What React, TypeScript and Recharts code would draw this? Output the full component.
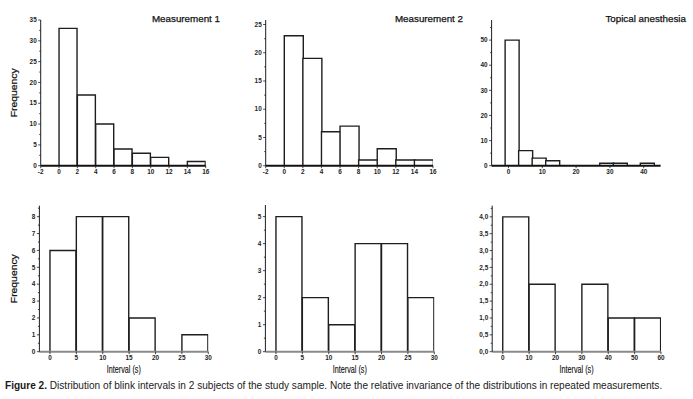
import React, { useLayoutEffect, useRef, useState } from "react";
import { BarChart, Bar, XAxis, YAxis } from "recharts";

// bin centres and counts
const binsTop = [1, 3, 5, 7, 9, 11, 13, 15];
const countsM1 = [33, 17, 10, 4, 3, 2, 0, 1];
const countsM2 = [23, 19, 6, 7, 1, 3, 1, 1];
const binsTA = [1, 5, 9, 13, 17, 21, 25, 29, 33, 37, 41];
const countsTA = [50, 6, 3, 2, 0, 0, 0, 1, 1, 0, 1];
const bins5 = [2.5, 7.5, 12.5, 17.5, 22.5, 27.5];
const countsB1 = [6, 8, 8, 2, 0, 1];
const countsB2 = [5, 2, 1, 4, 4, 2];
const bins10 = [5, 15, 25, 35, 45, 55];
const countsB3 = [4, 2, 0, 2, 1, 1];

// tick values
const xTicksTop = [-2, 0, 2, 4, 6, 8, 10, 12, 14, 16];
const xTicksTA = [0, 10, 20, 30, 40];
const xTicks5 = [0, 5, 10, 15, 20, 25, 30];
const xTicks10 = [0, 10, 20, 30, 40, 50, 60];
const yTicksM1 = [0, 2.5, 5, 7.5, 10, 12.5, 15, 17.5, 20, 22.5, 25, 27.5, 30, 32.5, 35];
const yTicksM2 = [0, 2.5, 5, 7.5, 10, 12.5, 15, 17.5, 20, 22.5, 25];
const yTicksTA = [0, 5, 10, 15, 20, 25, 30, 35, 40, 45, 50, 55];
const yTicksB1 = [0, 0.5, 1, 1.5, 2, 2.5, 3, 3.5, 4, 4.5, 5, 5.5, 6, 6.5, 7, 7.5, 8, 8.5];
const yTicksB2 = [0, 0.5, 1, 1.5, 2, 2.5, 3, 3.5, 4, 4.5, 5];
const yTicksB3 = [0, 0.25, 0.5, 0.75, 1, 1.25, 1.5, 1.75, 2, 2.25, 2.5, 2.75, 3, 3.25, 3.5, 3.75, 4, 4.25];

const FONT = "'Liberation Sans', Arial, sans-serif";
const INK = "#1e1e1e";

function XTick({ x, y, payload }: any) {
  return (
    <g>
      <line x1={x} x2={x} y1={y} y2={y + 2.5} stroke={INK} strokeWidth={0.8} />
      <text x={x} y={y + 8.3} textAnchor="middle" fontSize={6.4} fontWeight="bold" fill={INK} fontFamily={FONT}>
        {payload.value}
      </text>
    </g>
  );
}

function YTick({ x, y, payload, major, fmt }: any) {
  const v = payload.value;
  const r = v / major;
  const isMajor = Math.abs(r - Math.round(r)) < 1e-6;
  return (
    <g>
      <line x1={x - (isMajor ? 2.5 : 1.5)} x2={x} y1={y} y2={y} stroke={INK} strokeWidth={0.8} />
      {isMajor && (
        <text x={x - 4} y={y + 2.2} textAnchor="end" fontSize={6.4} fontWeight="bold" fill={INK} fontFamily={FONT}>
          {fmt ? fmt(v) : v}
        </text>
      )}
    </g>
  );
}

function FreqLabel({ viewBox }: any) {
  const cx = viewBox.x + 16.5;
  const cy = viewBox.y + viewBox.height / 2;
  return (
    <g opacity={0.999}>
      <text transform={`translate(${cx},${cy}) rotate(-90)`} textAnchor="middle"
        fontSize={8.8} fill="#111" fontFamily={FONT} textLength={49} lengthAdjust="spacingAndGlyphs"
        stroke="#111" strokeWidth={0.2}>
        Frequency
      </text>
    </g>
  );
}

function IntervalLabel({ viewBox }: any) {
  const cx = viewBox.x + viewBox.width / 2;
  return (
    <g opacity={0.999}>
      <text x={cx} y={viewBox.y + 21} textAnchor="middle" fontSize={11} fill="#111" fontFamily={FONT}
        textLength={34} lengthAdjust="spacingAndGlyphs" stroke="#111" strokeWidth={0.15}>
        Interval (s)
      </text>
    </g>
  );
}

const comma = (v: number) => v.toFixed(1).replace(".", ",");

type PanelProps = {
  left: number; top: number; width: number; height: number;
  plot: [number, number, number, number];
  bins: number[]; counts: number[];
  xDomain: [number, number]; xTicks: number[];
  yDomain: [number, number]; yTicks: number[]; yMajor: number;
  yFmt?: (v: number) => string;
  freq?: boolean; interval?: boolean; axisColor: string;
};

function Panel(p: PanelProps) {
  const [pl, pr, pt, pb] = p.plot;
  const data = p.bins.map((x, i) => ({ x, n: p.counts[i] }));
  return (
    <div style={{ position: "absolute", left: p.left, top: p.top }}>
      <BarChart width={p.width} height={p.height} data={data}
        margin={{ top: pt - p.top, right: p.left + p.width - pr, bottom: 0, left: 0 }}
        barCategoryGap={0} barGap={0}>
        <XAxis dataKey="x" type="number" domain={p.xDomain} ticks={p.xTicks} interval={0} allowDataOverflow
          height={p.top + p.height - pb} axisLine={{ stroke: p.axisColor, strokeWidth: 2 }}
          tickLine={false} tickSize={0} tickMargin={0} tick={<XTick />}
          label={p.interval ? <IntervalLabel /> : undefined} />
        <YAxis type="number" domain={p.yDomain} ticks={p.yTicks} interval={0} allowDataOverflow
          width={pl - p.left} axisLine={{ stroke: INK, strokeWidth: 1 }}
          tickLine={false} tickSize={0} tickMargin={0} tick={<YTick major={p.yMajor} fmt={p.yFmt} />}
          label={p.freq ? <FreqLabel /> : undefined} />
        <Bar dataKey="n" fill="#fff" stroke={INK} strokeWidth={1.4} isAnimationActive={false} />
      </BarChart>
    </div>
  );
}

function Caption() {
  const ref = useRef<SVGTextElement>(null);
  const [sx, setSx] = useState(1);
  useLayoutEffect(() => {
    if (ref.current) {
      const len = ref.current.getComputedTextLength();
      if (len > 0) setSx(658 / len);
    }
  }, []);
  return (
    <g opacity={0.999} transform={`translate(5,389) scale(${sx},1)`}>
      <text ref={ref} x={0} y={0} fontFamily={FONT} fontSize={10.8} fill="#1a1a1a">
        <tspan fontWeight="bold">Figure 2.</tspan> Distribution of blink intervals in 2 subjects of the study sample. Note the relative invariance of the distributions in repeated measurements.
      </text>
    </g>
  );
}

export default function App() {
  return (
    <div style={{ position: "absolute", left: 0, top: 0, width: 693, height: 399, background: "#fff", overflow: "hidden" }}>
      <Panel left={0} top={0} width={228} height={185} plot={[40.7, 205.7, 20, 165.7]}
        bins={binsTop} counts={countsM1} xDomain={[-2, 16]} xTicks={xTicksTop}
        yDomain={[0, 35]} yTicks={yTicksM1} yMajor={5} freq axisColor="#111" />
      <Panel left={228} top={0} width={228} height={185} plot={[265.7, 433, 20, 165.7]}
        bins={binsTop} counts={countsM2} xDomain={[-2, 16]} xTicks={xTicksTop}
        yDomain={[0, 25.8]} yTicks={yTicksM2} yMajor={5} axisColor="#111" />
      <Panel left={456} top={0} width={237} height={185} plot={[491.6, 660.6, 20, 165.7]}
        bins={binsTA} counts={countsTA} xDomain={[-5, 45]} xTicks={xTicksTA}
        yDomain={[0, 58]} yTicks={yTicksTA} yMajor={10} axisColor="#111" />
      <Panel left={0} top={185} width={228} height={195} plot={[39.4, 208.3, 205.7, 351.7]}
        bins={bins5} counts={countsB1} xDomain={[-2, 30]} xTicks={xTicks5}
        yDomain={[0, 8.65]} yTicks={yTicksB1} yMajor={1} freq interval axisColor="#8a8a8a" />
      <Panel left={228} top={185} width={228} height={195} plot={[265.4, 434.3, 205, 351.7]}
        bins={bins5} counts={countsB2} xDomain={[-2, 30]} xTicks={xTicks5}
        yDomain={[0, 5.43]} yTicks={yTicksB2} yMajor={1} interval axisColor="#8a8a8a" />
      <Panel left={456} top={185} width={237} height={195} plot={[492.2, 661, 205.7, 351.7]}
        bins={bins10} counts={countsB3} xDomain={[-4, 60]} xTicks={xTicks10}
        yDomain={[0, 4.33]} yTicks={yTicksB3} yMajor={0.5} yFmt={comma} interval axisColor="#8a8a8a" />
      <svg width={693} height={399} style={{ position: "absolute", left: 0, top: 0, pointerEvents: "none" }}>
        <g fontFamily={FONT} fontSize={9.8} fill="#111" stroke="#111" strokeWidth={0.25} textAnchor="end">
          <text x={220} y={21.5}>Measurement 1</text>
          <text x={463} y={21.5}>Measurement 2</text>
          <text x={686} y={21.5}>Topical anesthesia</text>
        </g>
        <Caption />
      </svg>
    </div>
  );
}
